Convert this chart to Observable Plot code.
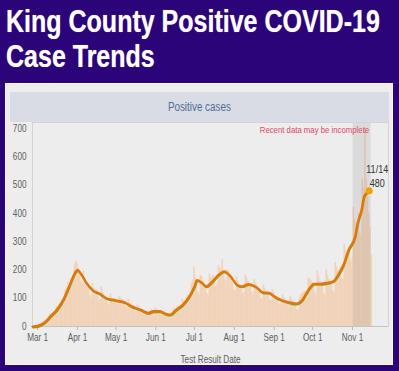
<!DOCTYPE html>
<html><head><meta charset="utf-8">
<script src="https://cdn.jsdelivr.net/npm/d3@7"></script>
<script src="https://cdn.jsdelivr.net/npm/@observablehq/plot@0.6"></script>
<style>
html,body{margin:0;padding:0;}
body{width:399px;height:371px;background:#2b047a;position:relative;overflow:hidden;font-family:"Liberation Sans",Arial,sans-serif;}
#title{position:absolute;left:6px;top:3.6px;color:#fff;font-weight:bold;font-size:30.5px;line-height:35px;white-space:nowrap;text-shadow:0 0 1px rgba(210,205,230,0.7);transform:scaleX(0.82);transform-origin:0 0;}
#panel{position:absolute;left:5px;top:82.5px;width:387.5px;height:282.5px;background:#ededed;box-sizing:border-box;border:1px solid #f8f8f8;}
#header{position:absolute;left:9.5px;top:91.7px;width:379px;height:30px;background:#d9dce5;color:#4f6f95;font-size:12px;text-align:center;line-height:30px;}
#header span{display:inline-block;transform:scaleX(0.82);}
#chart{position:absolute;left:0;top:110px;}
#chart svg g[aria-label="x-axis tick"]{stroke:#b8b8b8;}
#chart svg g.tick line{stroke:#b8b8b8;}
</style>
</head><body>
<div id="title">King County Positive COVID-19<br>Case Trends</div>
<div id="panel"></div>
<div id="header"><span>Positive cases</span></div>
<div id="chart"></div>
<script>
// ---- data ----
const startDate = "2020-02-26";
const dailyCases = [
  // Feb 26-29
  0,1,2,3,
  // Mar
  3,5,8,12,15,18,16, 22,30,38,45,40,48,35, 50,70,65,80,72,90,75, 95,130,140,155,150,165,150, 175,215,230,
  // Apr
  220,205,190,160,150,195,170, 155,140,145,110,100,150,135, 125,130,115,90,95,140,120, 110,105,100,80,75,115,100, 95,100,
  // May
  90,80,75,105,100,95,88, 90,70,65,95,85,80,72, 70,55,50,75,68,62,60, 58,45,40,55,50,45,52, 60,50,48,
  // Jun
  65,60,55,52,50,40,42, 55,48,45,40,38,32,35, 60,65,62,70,68,55,60, 95,90,85,100,110,95,100, 150,160,
  // Jul
  210,175,150,120,110,180,175, 160,150,140,115,110,185,170, 175,180,165,140,150,215,200, 205,235,190,165,160,200,195, 180,170,155,
  // Aug
  130,125,175,160,150,145,130, 115,120,180,170,160,150,140, 120,110,165,150,140,130,120, 100,95,145,135,125,120,110, 95,90,130,
  // Sep
  120,110,105,95,80,75,85, 110,100,95,90,75,65,105, 95,90,85,80,60,55,100, 110,115,120,125,105,95,170, 165,160,
  // Oct
  155,150,120,110,195,175,160, 150,140,115,110,200,180,165, 155,150,125,120,225,210,195, 200,210,170,165,290,265,255, 270,280,230,
  // Nov 1-16
  240,420,380,360,370,400,330, 320,520,490,700,520,460,400, 350,250
];
const avgDates = ["2020-02-26","2020-03-01","2020-03-06","2020-03-11","2020-03-16","2020-03-21","2020-03-26","2020-03-30",
  "2020-04-01","2020-04-04","2020-04-08","2020-04-13","2020-04-18","2020-04-23","2020-04-28",
  "2020-05-04","2020-05-08","2020-05-12","2020-05-16","2020-05-20","2020-05-26","2020-05-30",
  "2020-06-04","2020-06-08","2020-06-12","2020-06-17","2020-06-22","2020-06-27",
  "2020-07-01","2020-07-03","2020-07-07","2020-07-10","2020-07-15","2020-07-20","2020-07-24","2020-07-29",
  "2020-08-03","2020-08-07","2020-08-12","2020-08-18","2020-08-23","2020-08-28",
  "2020-09-02","2020-09-07","2020-09-12","2020-09-18","2020-09-23","2020-09-27",
  "2020-10-02","2020-10-07","2020-10-12","2020-10-17","2020-10-21","2020-10-25","2020-10-29",
  "2020-11-03","2020-11-05","2020-11-08","2020-11-10","2020-11-12","2020-11-14"];
const avgValues = [0,2,13,36,60,95,148,190,
  200,184,154,128,117,101,95,
  90,85,74,66,60,48,54,
  54,46,42,60,78,107,
  142,164,154,142,160,184,195,178,
  148,142,150,140,121,119,
  104,93,86,81,95,125,
  151,151,154,160,184,219,272,
  319,366,413,460,472,480];
const xTicks = ["2020-03-01","2020-04-01","2020-05-01","2020-06-01","2020-07-01","2020-08-01","2020-09-01","2020-10-01","2020-11-01"];
const xTickLabels = ["Mar 1","Apr 1","May 1","Jun 1","Jul 1","Aug 1","Sep 1","Oct 1","Nov 1"];
const yTicks = [0,100,200,300,400,500,600,700];
const xDomain = ["2020-02-26","2020-11-29"];
const yMax = 721;
const shadeStart = "2020-11-01T12:00";
const shadeEnd = "2020-11-15T12:00";
const noteText = "Recent data may be incomplete";
const noteY = 700;
const labelDate = "2020-11-14";
const labelText = "11/14";
const labelValue = 480;
const xLabel = "Test Result Date";

// ---- build ----
const DAY = 864e5;
const t0 = new Date(startDate + "T00:00Z").getTime();
const bars = dailyCases.map((v, i) => ({x1: new Date(t0 + i*DAY - DAY/2), x2: new Date(t0 + i*DAY + DAY/2), cases: v}));
const avg = avgDates.map((d, i) => ({date: new Date(d + "T00:00Z"), value: avgValues[i]}));
const tickDates = xTicks.map(d => new Date(d + "T00:00Z"));
const tickLabelOf = new Map(tickDates.map((d, i) => [+d, xTickLabels[i]]));
const lab = [{date: new Date(labelDate + "T00:00Z"), value: labelValue}];

const chart = Plot.plot({
  width: 399, height: 258,
  marginLeft: 32, marginRight: 11, marginTop: 12, marginBottom: 42,
  style: {background: "transparent", fontFamily: '"Liberation Sans",Arial,sans-serif', fontSize: "10px", color: "#606060"},
  x: {type: "utc", domain: xDomain.map(d => new Date(d + "T00:00Z")), ticks: tickDates, tickFormat: d => tickLabelOf.get(+d), tickSize: 4, tickPadding: 3, label: null},
  y: {domain: [0, yMax], ticks: yTicks, tickSize: 0, tickPadding: 6, label: null},
  marks: [
    Plot.rectY(bars, {x1: "x1", x2: "x2", y: "cases", fill: "#f1d3ba", inset: -0.2, clip: true}),
    Plot.rect([0], {x1: () => new Date(shadeStart + "Z"), x2: () => new Date(shadeEnd + "Z"), fill: "#777", fillOpacity: 0.15}),
    Plot.frame({stroke: "#d4d4d4"}),
    Plot.ruleY([0], {stroke: "#c4c4c4"}),
    Plot.line(avg, {x: "date", y: "value", stroke: "#9a9a18", strokeWidth: 2, dx: 0.5, dy: 1, curve: "monotone-x"}),
    Plot.line(avg, {x: "date", y: "value", stroke: "#e8730c", strokeWidth: 2.2, curve: "monotone-x"}),
    Plot.dot(lab, {x: "date", y: "value", r: 3.5, fill: "#f2a100"}),
    Plot.text(lab, {x: "date", y: "value", text: d => labelText + "\n" + d.value, dx: 8, dy: -4, lineAnchor: "bottom", lineHeight: 1.2, fontSize: 11, fill: "#333"}),
    Plot.text([0], {x: () => new Date(shadeEnd + "Z"), y: () => noteY, text: () => noteText, textAnchor: "end", dx: -2, dy: 2, fontSize: 9.5, fill: "#e0476a"}),
    Plot.text([xLabel], {frameAnchor: "bottom", text: d => d, lineAnchor: "middle", dy: 33, fontSize: 10, fill: "#606060"})
  ]
});
// condense all svg texts around their anchor point (narrow-font look)
chart.querySelectorAll("text").forEach(t => {
  const tr = t.getAttribute("transform") || "";
  const ax = +t.getAttribute("x") || 0;
  t.setAttribute("transform", tr + ` translate(${ax},0) scale(0.82,1) translate(${-ax},0)`);
});
document.getElementById("chart").appendChild(chart);
</script>
</body></html>
